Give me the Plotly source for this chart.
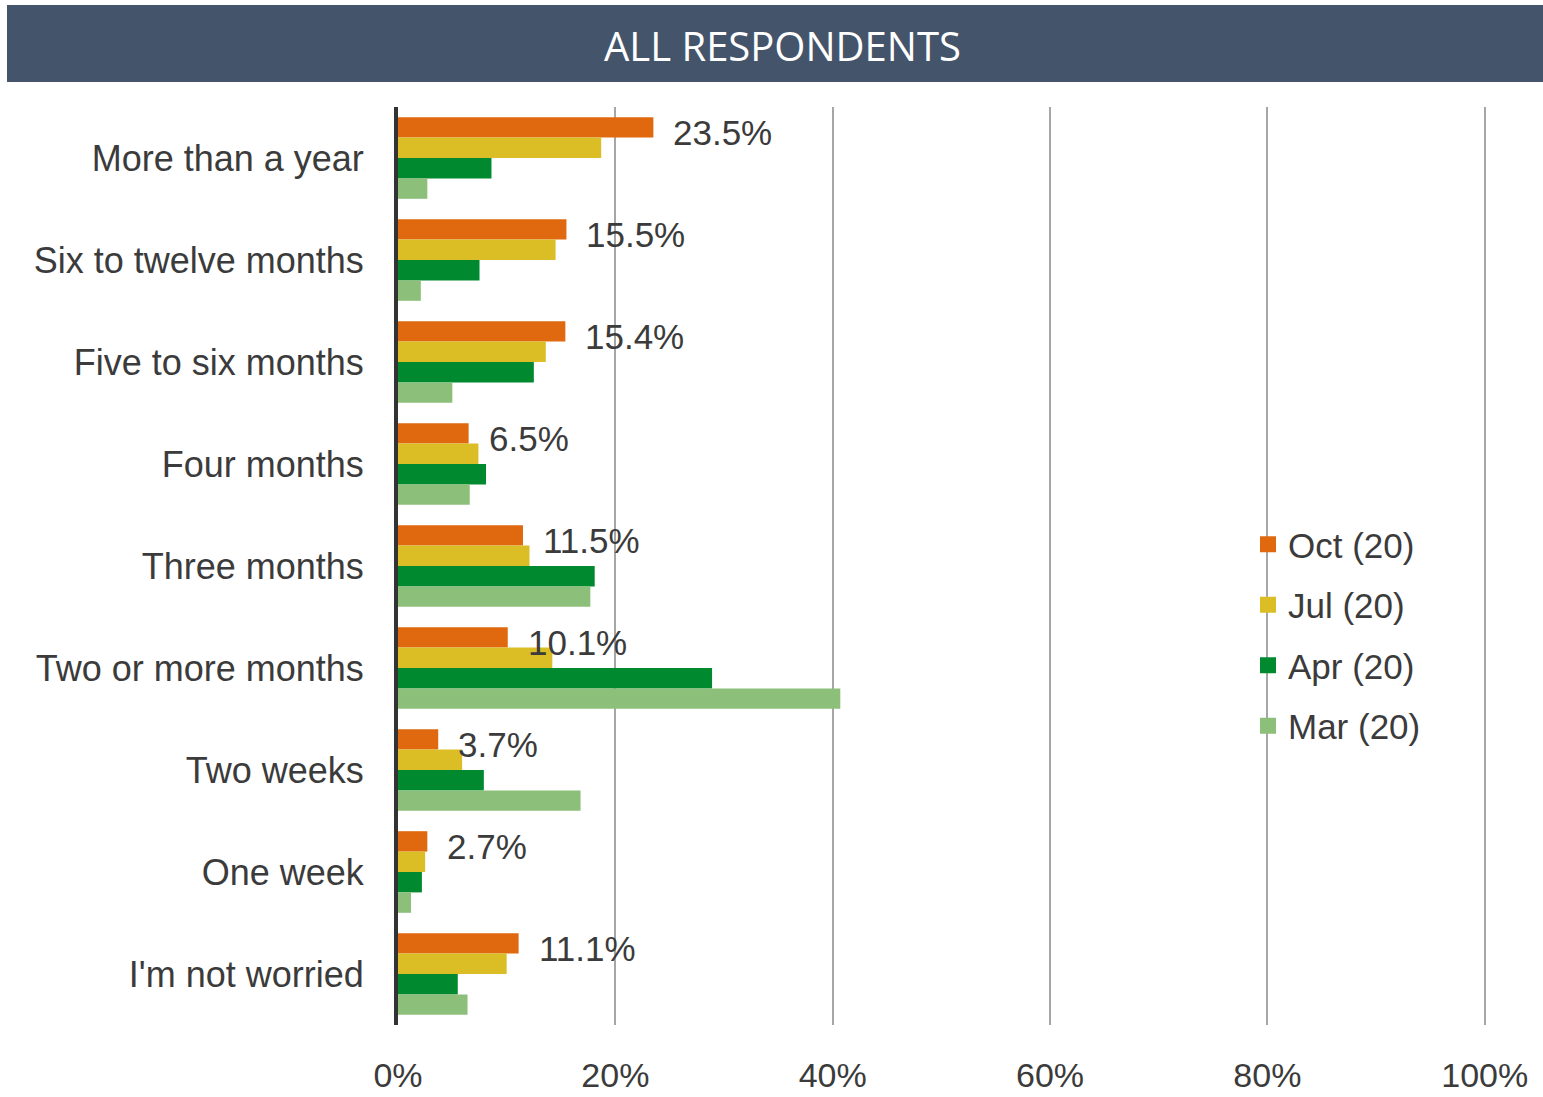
import plotly.graph_objects as go

categories = ["More than a year", "Six to twelve months", "Five to six months", "Four months",
              "Three months", "Two or more months", "Two weeks", "One week", "I'm not worried"]
series_names = ["Oct (20)", "Jul (20)", "Apr (20)", "Mar (20)"]
oct_vals = [23.5, 15.5, 15.4, 6.5, 11.5, 10.1, 3.7, 2.7, 11.1]
jul_vals = [18.7, 14.5, 13.6, 7.4, 12.1, 14.2, 5.9, 2.5, 10.0]
apr_vals = [8.6, 7.5, 12.5, 8.1, 18.1, 28.9, 7.9, 2.2, 5.5]
mar_vals = [2.7, 2.1, 5.0, 6.6, 17.7, 40.7, 16.8, 1.2, 6.4]
x_ticks = [0, 20, 40, 60, 80, 100]
title_text = "ALL RESPONDENTS"

colors = ["#E0690F", "#DBBD26", "#00892F", "#8CBF7A"]
all_vals = [oct_vals, jul_vals, apr_vals, mar_vals]

FONT = "Liberation Sans, Arial, sans-serif"
TITLE_FONT = "Open Sans, Liberation Sans, sans-serif"
TXT = "#3B3B3B"

fig = go.Figure()
for name, vals, col in zip(series_names, all_vals, colors):
    fig.add_trace(go.Bar(
        y=categories, x=vals, name=name, orientation="h",
        marker=dict(color=col, line=dict(width=0)),
        legendgroup=name, showlegend=False, hoverinfo="x+y+name",
    ))
# legend entries with larger square swatches
for name, col in zip(series_names, colors):
    fig.add_trace(go.Scatter(
        x=[None], y=[None], mode="markers", name=name, legendgroup=name,
        marker=dict(symbol="square", size=19, color=col), hoverinfo="skip",
    ))

for cat, v in zip(categories, oct_vals):
    fig.add_annotation(x=v, y=cat, text=f"{v:.1f}%", showarrow=False,
                       xanchor="left", yanchor="middle", xshift=18, yshift=26,
                       font=dict(family=FONT, size=35, color=TXT))

W, H = 1543, 1097
L, R, T, B = 398, 55, 107, 72
pw, ph = W - L - R, H - T - B
def px_x(p):
    return (p - L) / pw
def px_y(p):
    return 1 + (T - p) / ph

fig.add_shape(type="rect", xref="paper", yref="paper",
              x0=px_x(7), x1=px_x(1543), y0=px_y(82), y1=px_y(5),
              fillcolor="#44546A", line=dict(width=0), layer="below")
fig.add_annotation(xref="paper", yref="paper", x=px_x(782), y=px_y(45),
                   text=title_text, showarrow=False, xanchor="center", yanchor="middle",
                   font=dict(family=TITLE_FONT, size=40, color="white"))

fig.update_layout(
    width=W, height=H,
    margin=dict(l=L, r=R, t=T, b=B, autoexpand=False),
    paper_bgcolor="white", plot_bgcolor="white",
    barmode="group", bargap=0.2, bargroupgap=0,
    font=dict(family=FONT, color=TXT),
    legend=dict(x=px_x(1248), y=px_y(635), xanchor="left", yanchor="middle",
                font=dict(family=FONT, size=35, color=TXT), itemsizing="trace",
                traceorder="grouped", tracegroupgap=12, bgcolor="rgba(0,0,0,0)"),
)
fig.update_xaxes(range=[0, 100.3], tickvals=x_ticks, ticktext=[f"{t}%" for t in x_ticks],
                 showgrid=True, gridcolor="#A6A6A6", gridwidth=2, zeroline=False,
                 tickfont=dict(family=FONT, size=34, color=TXT), ticks="", ticklabelstandoff=27,
                 fixedrange=True)
fig.update_yaxes(autorange="reversed", showgrid=False, zeroline=False,
                 showline=True, linecolor="#333333", linewidth=4,
                 tickfont=dict(family=FONT, size=36, color=TXT), ticks="", ticklabelstandoff=23,
                 fixedrange=True)

fig.write_html("out.html", config={"displayModeBar": False},
               post_script="document.body.style.margin='0';document.body.style.overflow='hidden';")
